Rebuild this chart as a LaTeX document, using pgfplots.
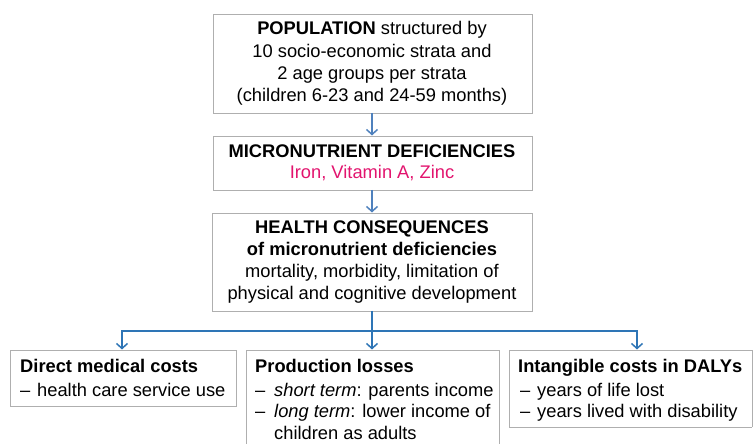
\documentclass[border=0pt]{standalone}
\usepackage{fontspec}
\setmainfont{Liberation Sans}
\usepackage{pgfplots}
\pgfplotsset{compat=1.18}
\usetikzlibrary{arrows.meta}
\definecolor{boxgray}{RGB}{175,175,175}
\definecolor{arrowtop}{RGB}{79,129,189}
\definecolor{arrowbot}{RGB}{46,117,182}
\definecolor{pinktext}{RGB}{226,20,110}

\begin{document}
\begin{tikzpicture}
\begin{axis}[
  at={(0,0)}, anchor=south west,
  scale only axis, width=753pt, height=444pt,
  xmin=0, xmax=753, ymin=0, ymax=444,
  hide axis, clip=true,
  every axis plot/.append style={mark=none},
]
% boxes
\addplot[boxgray, line width=0.8pt] coordinates {(213,331)(532,331)(532,430)(213,430)(213,331)};
\addplot[boxgray, line width=0.8pt] coordinates {(213,254)(532,254)(532,308)(213,308)(213,254)};
\addplot[boxgray, line width=0.8pt] coordinates {(212,133)(532,133)(532,231)(212,231)(212,133)};
\addplot[boxgray, line width=0.8pt] coordinates {(10,38)(236,38)(236,94)(10,94)(10,38)};
\addplot[boxgray, line width=0.8pt] coordinates {(246,-5)(246,94)(499,94)(499,-5)};
\addplot[boxgray, line width=0.8pt] coordinates {(752,17)(509,17)(509,94)(752,94)(752,17)};
% arrows
\addplot[arrowtop, line width=1.5pt, -{Straight Barb[length=5pt,width=11pt]}] coordinates {(372,331)(372,308.5)};
\addplot[arrowtop, line width=1.5pt, -{Straight Barb[length=5pt,width=11pt]}] coordinates {(372,254)(372,231.5)};
\addplot[arrowbot, line width=1.5pt] coordinates {(372,133)(372,113)};
\addplot[arrowbot, line width=1.5pt] coordinates {(121.3,113)(637.7,113)};
\addplot[arrowbot, line width=1.5pt, -{Straight Barb[length=5pt,width=11pt]}] coordinates {(122,113.7)(122,94.5)};
\addplot[arrowbot, line width=1.5pt, -{Straight Barb[length=5pt,width=11pt]}] coordinates {(372,113.7)(372,94.5)};
\addplot[arrowbot, line width=1.5pt, -{Straight Barb[length=5pt,width=11pt]}] coordinates {(637,113.7)(637,94.5)};
% texts
\node[align=center, font={\fontsize{18.3}{22.3}\selectfont}] at (axis cs:372,380.5)
  {\textbf{POPULATION} structured by\\10 socio-economic strata and\\2 age groups per strata\\(children 6-23 and 24-59 months)};
\node[align=center, font={\fontsize{18.3}{21.5}\selectfont}] at (axis cs:372,281)
  {\textbf{MICRONUTRIENT DEFICIENCIES}\\\textcolor{pinktext}{Iron, Vitamin A, Zinc}};
\node[align=center, font={\fontsize{18.3}{22}\selectfont}] at (axis cs:372,182)
  {\textbf{HEALTH CONSEQUENCES}\\\textbf{of micronutrient deficiencies}\\mortality, morbidity, limitation of\\physical and cognitive development};
% bottom row
\begin{scope}[every node/.style={anchor=base west, inner sep=0pt, font={\fontsize{18.3}{22}\selectfont}}]
\node at (axis cs:20,71) {\textbf{Direct medical costs}};
\node at (axis cs:20,47) {--};
\node at (axis cs:37,47) {health care service use};
\node at (axis cs:255,71) {\textbf{Production losses}};
\node at (axis cs:255,47) {--};
\node at (axis cs:274,47) {\textit{short term}: parents income};
\node at (axis cs:255,26) {--};
\node at (axis cs:274,26) {\textit{long term}: lower income of};
\node at (axis cs:274,4) {children as adults};
\node at (axis cs:518,71) {\textbf{Intangible costs in DALYs}};
\node at (axis cs:520,47) {--};
\node at (axis cs:537,47) {years of life lost};
\node at (axis cs:520,26) {--};
\node at (axis cs:537,26) {years lived with disability};
\end{scope}
\end{axis}
\pgfresetboundingbox
\path[use as bounding box] (0,0) rectangle (753pt,444pt);
\end{tikzpicture}
\end{document}
